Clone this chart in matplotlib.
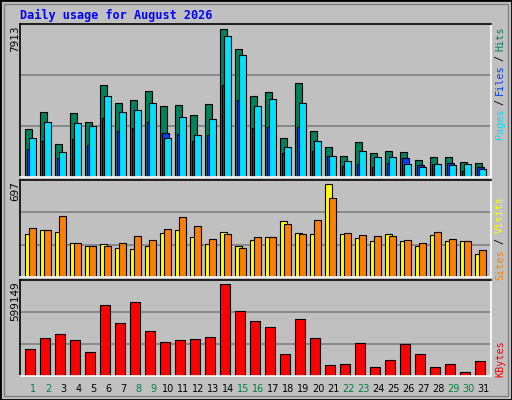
import matplotlib
matplotlib.use("Agg")
import matplotlib.pyplot as plt
from matplotlib.patches import Rectangle

days = list(range(1, 32))
weekend = {1, 2, 8, 9, 15, 16, 22, 23, 29, 30}

hits = [2542, 3455, 1737, 3401, 2918, 4905, 3938, 4099, 4583, 3777, 3831, 3294, 3885, 7913, 6838, 4314,
        4529, 2059, 5012, 2434, 1575, 1092, 1844, 1253, 1360, 1307, 877, 1038, 1038, 770, 716]
files = [2059, 2918, 1307, 2864, 2703, 4314, 3455, 3562, 3938, 2059, 3186, 2220, 3079, 7536, 6516, 3777,
         4153, 1575, 3938, 1897, 1092, 823, 1360, 1038, 1038, 662, 501, 662, 609, 662, 394]
pages = [1468, 1897, 985, 2005, 1683, 3133, 2434, 2596, 2918, 2327, 2273, 1897, 2220, 4905, 4099, 2596,
         2649, 1253, 2649, 1360, 1092, 555, 662, 501, 716, 985, 609, 662, 716, 286, 501]
visits = [320, 350, 335, 252, 229, 244, 214, 206, 229, 327, 350, 297, 244, 335, 229, 274,
          297, 418, 327, 320, 697, 320, 289, 267, 320, 267, 229, 312, 267, 267, 169]
sites = [365, 350, 455, 252, 229, 229, 252, 304, 274, 357, 448, 380, 282, 320, 214, 297,
         297, 395, 320, 425, 591, 327, 312, 304, 304, 274, 252, 335, 282, 267, 199]
kbytes = [172750, 244911, 271150, 231790, 153069, 461394, 343312, 481074, 290831, 218670, 231790,
          238350, 251471, 599149, 422033, 356432, 317072, 139949, 369552, 244911, 67788, 74348,
          212110, 54668, 100588, 205550, 139949, 54668, 74348, 21867, 94028]

BG = "#C0C0C0"
W, H = 512, 400
fig = plt.figure(figsize=(W / 100, H / 100), dpi=100, facecolor=BG)


def px_axes(top, bottom):
    return fig.add_axes([20.3 / W, 1 - bottom / H, 470.4 / W, (bottom - top) / H])


def setup(ax, ymax):
    ax.set_facecolor(BG)
    ax.set_xlim(-0.333, 31.03)
    ax.set_ylim(0, ymax)
    ax.set_xticks([])
    ax.set_yticks([])
    for y in (ymax / 3, 2 * ymax / 3):
        ax.axhline(y, color="#808080", lw=1.2, zorder=0)
    ax.spines["left"].set_color("black")
    ax.spines["top"].set_color("black")
    ax.spines["right"].set_color("white")
    ax.spines["bottom"].set_color("white")
    for s in ax.spines.values():
        s.set_linewidth(1.2)


x = [d - 1 for d in days]
bw = 7 / 15
kw = dict(align="edge", edgecolor="black", linewidth=0.8)

ax1 = px_axes(24.3, 176.7)
setup(ax1, 7913 * 1.034)
ax1.bar(x, hits, bw, color="#00805C", **kw)
ax1.bar([i + 2 / 15 for i in x], pages, bw, color="#0040FF", **kw)
ax1.bar([i + 4 / 15 for i in x], files, bw, color="#00E0FF", **kw)

ax2 = px_axes(180.3, 276.7)
setup(ax2, 697 * 1.044)
ax2.bar(x, visits, bw, color="#FFFF00", **kw)
ax2.bar([i + 4 / 15 for i in x], sites, bw, color="#FF8000", **kw)

ax3 = px_axes(280.3, 375.7)
setup(ax3, 599149 * 1.044)
ax3.bar(x, kbytes, 10 / 15, color="#FF0000", **kw)


def ftext(px, py, s, **k):
    fig.text(px / W, 1 - py / H, s, **k)


mono = dict(family="DejaVu Sans Mono", fontsize=7.3, rotation=90, ha="center", va="center")
ftext(20, 15, "Daily usage for August 2026", family="DejaVu Sans Mono", fontsize=8.5,
      fontweight="bold", color="#0000FF", ha="left", va="center")

ftext(15, 25.5, "7913", fontsize=7.5, rotation=90, ha="center", va="top")
ftext(15, 181, "697", fontsize=7.5, rotation=90, ha="center", va="top")
ftext(15, 281, "599149", fontsize=7.5, rotation=90, ha="center", va="top")

ftext(500, 39, "Hits", color="#00805C", **mono)
ftext(500, 58, "/", color="black", **mono)
ftext(500, 79.6, "Files", color="#0040FF", **mono)
ftext(500, 101.6, "/", color="black", **mono)
ftext(500, 123.6, "Pages", color="#00E0FF", **mono)
ftext(500, 214.5, "Visits", color="#FFFF00", **mono)
ftext(500, 240.8, "/", color="black", **mono)
ftext(500, 264.5, "Sites", color="#FF8000", **mono)
ftext(500, 359, "KBytes", color="#FF0000", **mono)

for d in days:
    ftext(25.3 + 15 * (d - 1) + 8, 389, str(d), fontsize=7, ha="center", va="center",
          color="#008040" if d in weekend else "black")

# frame with bevel
fig.patches.append(Rectangle((0, 0), 1, 1, transform=fig.transFigure, fill=False,
                             edgecolor="black", linewidth=2))
fig.patches.append(Rectangle((4 / W, 4 / H), 1 - 8 / W, 1 - 8 / H, transform=fig.transFigure,
                             fill=False, edgecolor="#808080", linewidth=1))

fig.savefig("out.png", dpi=100, facecolor=BG)
